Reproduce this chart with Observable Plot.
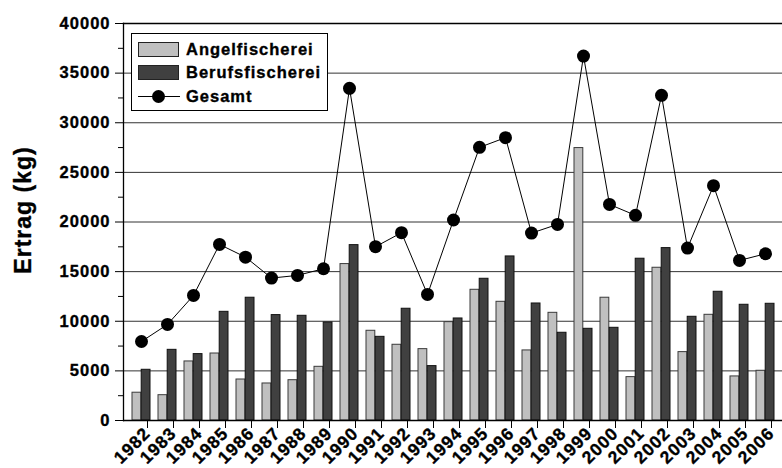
<!DOCTYPE html>
<html>
<head>
<meta charset="utf-8">
<script src="https://cdn.jsdelivr.net/npm/d3@7"></script>
<script src="https://cdn.jsdelivr.net/npm/@observablehq/plot@0.6"></script>
<style>
  body { margin: 0; background: #fff; }
  #wrap { position: relative; width: 782px; height: 468px; font-family: "Liberation Sans", Arial, sans-serif; }
  #chart svg text { font-family: "Liberation Sans", Arial, sans-serif; font-weight: 700; stroke: #000; stroke-width: 0.35px; }
  #legend { position: absolute; left: 131px; top: 33px; width: 195px; height: 76px; border: 1px solid #000; background: #fff;
            font-weight: 700; font-size: 16.5px; letter-spacing: 1px; color: #000; -webkit-text-stroke: 0.35px #000; }
  .row { position: absolute; left: 6px; height: 20px; display: flex; align-items: center; }
  .sw { width: 41px; height: 15px; border: 1px solid #222; box-sizing: border-box; margin-right: 7px; }
  .ln { position: relative; width: 42px; height: 14px; margin-right: 6px; }
  .ln:before { content: ""; position: absolute; left: 0; right: 0; top: 7px; border-top: 1px solid #000; }
  .ln:after { content: ""; position: absolute; left: 14px; top: 1px; width: 13px; height: 13px; border-radius: 50%; background: #000; }
</style>
</head>
<body>
<div id="wrap">
  <div id="chart"></div>
  <div id="legend">
    <div class="row" style="top:5px"><div class="sw" style="background:#c0c0c0"></div>Angelfischerei</div>
    <div class="row" style="top:28px"><div class="sw" style="background:#404040"></div>Berufsfischerei</div>
    <div class="row" style="top:52px"><div class="ln"></div>Gesamt</div>
  </div>
</div>
<script>
const years = ["1982","1983","1984","1985","1986","1987","1988","1989","1990","1991","1992","1993","1994",
               "1995","1996","1997","1998","1999","2000","2001","2002","2003","2004","2005","2006"];
const angelfischerei = [2800,2550,5950,6750,4130,3730,4060,5410,15760,9040,7630,7190,9910,
                        13170,11960,7060,10850,27450,12370,4370,15390,6890,10650,4440,5010];
const berufsfischerei = [5110,7120,6690,10950,12370,10620,10550,9880,17670,8430,11260,5480,10280,
                         14280,16530,11790,8840,9240,9340,16300,17370,10450,12970,11660,11760];
const gesamt = [7960,9680,12600,17740,16460,14350,14620,15290,33470,17510,18920,12700,20200,
                27520,28500,18880,19760,36720,21770,20670,32760,17370,23660,16130,16800];
const majorTicks = [0,5000,10000,15000,20000,25000,30000,35000,40000];
const minorTicks = [2500,7500,12500,17500,22500,27500,32500,37500];

const rows = years.map((y, i) => ({year: y, angel: angelfischerei[i], beruf: berufsfischerei[i], total: gesamt[i]}));

const chart = Plot.plot({
  width: 782,
  height: 468,
  marginLeft: 123,
  marginRight: 0,
  marginTop: 23,
  marginBottom: 48,
  style: {fontFamily: "Liberation Sans, Arial, sans-serif", fontWeight: "bold", fontSize: "16px", color: "#000", background: "#fff", overflow: "visible"},
  x: {type: "band", domain: years, padding: 0},
  y: {domain: [0, 40000]},
  marks: [
    Plot.ruleY(majorTicks, {stroke: "#333", strokeWidth: 1}),
    Plot.barY(rows, {x: "year", y: "angel", fill: "#c0c0c0", stroke: "#3a3a3a", strokeWidth: 1, insetLeft: 4, insetRight: 13.2}),
    Plot.barY(rows, {x: "year", y: "beruf", fill: "#404040", stroke: "#111", strokeWidth: 1, insetLeft: 13.2, insetRight: 4}),
    Plot.lineY(rows, {x: "year", y: "total", stroke: "#000", strokeWidth: 1}),
    Plot.dot(rows, {x: "year", y: "total", r: 6.5, fill: "#000", stroke: "none"}),
    Plot.ruleY([0], {stroke: "#000", strokeWidth: 1.3}),
    Plot.frame({anchor: "left", stroke: "#000", strokeWidth: 1.3}),
    Plot.frame({anchor: "top", stroke: "#000", strokeWidth: 1.3}),
    Plot.axisY({ticks: majorTicks, tickSize: 8, tickPadding: 5, tickFormat: d => String(d), label: null, fontSize: 16.5, fontWeight: "bold"}),
    Plot.axisY({ticks: minorTicks, tickSize: 5, text: null, label: null}),
    Plot.axisX({tickRotate: -45, tickSize: 7, tickPadding: 2, dx: 6, dy: 1, label: null, fontSize: 17.5, fontWeight: "bold"}),
    Plot.text(["Ertrag (kg)"], {frameAnchor: "left", textAnchor: "middle", rotate: -90, dx: -100, dy: -12, fontSize: 23, fontWeight: "bold"})
  ]
});
chart.querySelectorAll("text").forEach(t => { t.style.letterSpacing = "1px"; });
document.getElementById("chart").appendChild(chart);
</script>
</body>
</html>
